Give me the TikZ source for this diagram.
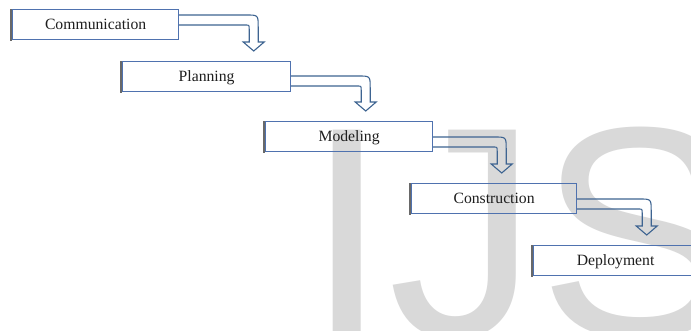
\documentclass[tikz,border=0pt]{standalone}
\usepackage{fontspec}
\setmainfont{Liberation Serif}
\newfontfamily\wmfont{Liberation Sans}
\usetikzlibrary{calc}
\definecolor{boxblue}{RGB}{79,114,175}
\definecolor{arrowblue}{RGB}{62,100,145}
\definecolor{wmgray}{RGB}{217,217,217}
\definecolor{edgegray}{RGB}{105,105,105}
\definecolor{txt}{RGB}{30,30,30}
\newcommand\bentarrow[4]{%
  \draw[arrowline] let \p1=(#1.north east), \p2=(#2.north) in
   ({\x1},{\y1-#3}) -- ({\x1+#4-12pt},{\y1-#3})
   .. controls ({\x1+#4},{\y1-#3}) .. ({\x1+#4},{\y1-#3-12pt})
   -- ({\x1+#4},{\y2+19pt}) -- ({\x1+#4+6pt},{\y2+19pt})
   -- ({\x1+#4-4.5pt},{\y2+10pt}) -- ({\x1+#4-15pt},{\y2+19pt})
   -- ({\x1+#4-9pt},{\y2+19pt}) -- ({\x1+#4-9pt},{\y1-#3-14pt})
   .. controls ({\x1+#4-9pt},{\y1-#3-10pt}) .. ({\x1+#4-13pt},{\y1-#3-10pt})
   -- ({\x1},{\y1-#3-10pt});}
\newcommand\leftedge[1]{%
  \draw[edgegray,line width=2pt] ([xshift=-1pt]#1.north west) -- ([xshift=-1pt,yshift=-1pt]#1.south west);}
\begin{document}
\begin{tikzpicture}[x=1pt,y=-1pt,
  stage/.style={draw=boxblue,line width=1.2pt,minimum height=30pt,inner sep=0pt,
    anchor=north west,text height=10.4pt,text depth=0pt,
    font=\fontsize{15.7}{18}\selectfont,text=txt},
  arrowline/.style={draw=arrowblue,line width=1.1pt,line join=miter}]
\useasboundingbox (0,0) rectangle (691,330);
\clip (0,0) rectangle (691,330);
\fill[white] (0,0) rectangle (691,330);
\node[anchor=base west,inner sep=0pt,text=wmgray,
  font=\wmfont\fontsize{300}{300}\selectfont] (wm) at (305,336) {IJS};
\node[stage,minimum width=166pt] (comm) at (12,9) {Communication};
\node[stage,minimum width=168pt] (plan) at (122,61) {Planning};
\node[stage,minimum width=167pt] (model) at (265,121) {Modeling};
\node[stage,minimum width=165pt] (constr) at (411,183) {Construction};
\node[stage,minimum width=164pt] (deploy) at (533,245) {Deployment};
\leftedge{comm}
\leftedge{plan}
\leftedge{model}
\leftedge{constr}
\leftedge{deploy}
\bentarrow{comm}{plan}{6pt}{79pt}
\bentarrow{plan}{model}{15pt}{79pt}
\bentarrow{model}{constr}{16pt}{73pt}
\bentarrow{constr}{deploy}{16pt}{74pt}
\end{tikzpicture}
\end{document}
